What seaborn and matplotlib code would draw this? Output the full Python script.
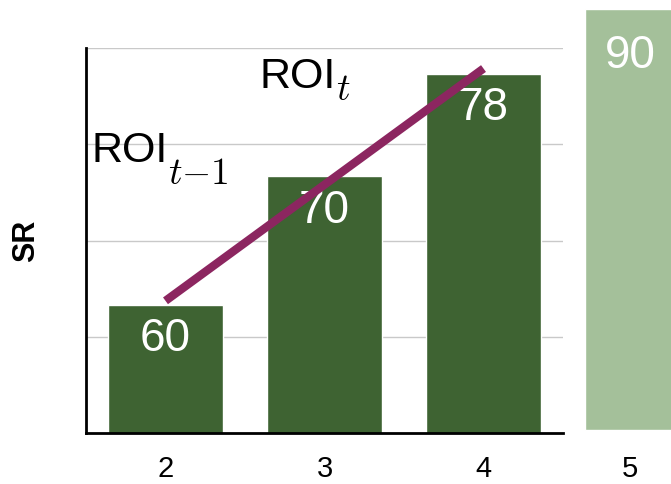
import matplotlib
matplotlib.use("Agg")
import matplotlib.pyplot as plt
import seaborn as sns
import pandas as pd

# Data
steps = [2, 3, 4]
sr_values = [60, 70, 78]
next_step = [5]
next_value = [90]
roi_x = [2, 4]
roi_y = [60.3, 78.4]
grid_levels = [57.5, 65, 72.5, 80]

sns.set_style("white")
plt.rcParams["font.family"] = ["Liberation Sans", "DejaVu Sans"]
plt.rcParams["mathtext.fontset"] = "cm"
plt.rcParams["text.color"] = "black"
plt.rcParams["axes.labelcolor"] = "black"
plt.rcParams["xtick.color"] = "black"

DARK = "#3E6332"
LIGHT = "#A4C09A"
ROI_COLOR = "#8C2660"
W, H = 671, 484

fig = plt.figure(figsize=(W / 100, H / 100), dpi=100)
ax = fig.add_axes([86 / W, (H - 433) / H, (563 - 86) / W, (433 - 48) / H])

df = pd.DataFrame({"step": steps, "sr": sr_values})
sns.barplot(data=df, x="step", y="sr", native_scale=True, width=0.72,
            color=DARK, saturation=1, ax=ax, zorder=2)

ax.set_xlim(1.5, 4.5)
ax.set_ylim(50, 80)
ax.set_yticks(grid_levels)
ax.set_yticklabels([])
ax.yaxis.grid(True, color="#C9C9C9", linewidth=1.0, zorder=0)
ax.set_axisbelow(True)
ax.set_xticks(steps)
ax.set_xticklabels([str(s) for s in steps], fontsize=21)
ax.tick_params(axis="both", length=0)
ax.tick_params(axis="x", pad=16)
ax.set_xlabel("")
ax.set_ylabel("SR", fontsize=22, fontweight="bold", labelpad=29)
for side in ("top", "right"):
    ax.spines[side].set_visible(False)
for side in ("left", "bottom"):
    ax.spines[side].set_color("black")
    ax.spines[side].set_linewidth(2)

for x, v in zip(steps, sr_values):
    ax.annotate(str(v), xy=(x, v), xytext=(0, -25), textcoords="offset points",
                ha="center", va="center", color="white", fontsize=33, zorder=4)

# ROI trend line across the bars
sns.lineplot(x=roi_x, y=roi_y, color=ROI_COLOR, linewidth=6, ax=ax,
             zorder=5, legend=False)
for ln in ax.get_lines():
    ln.set_solid_capstyle("butt")

# ROI labels: sans-serif name with a dropped math subscript
def roi_label(x, y, sub, drop_pt):
    base = ax.text(x, y, "ROI", fontsize=31, ha="left", va="baseline",
                   clip_on=False, zorder=6)
    ax.annotate(sub, xy=(1.0, y), xycoords=(base, "data"),
                xytext=(0, -drop_pt), textcoords="offset points",
                ha="left", va="baseline", fontsize=27, zorder=6,
                annotation_clip=False)

roi_label(2.590, 76.9, r"$t$", 9)
roi_label(1.535, 71.15, r"$t{-}1$", 16)

# Next step shown on its own scale
ax2 = fig.add_axes([563 / W, (H - 433) / H, 134 / W, (433 - 9) / H])
df2 = pd.DataFrame({"step": next_step, "sr": next_value})
sns.barplot(data=df2, x="step", y="sr", native_scale=True, width=0.67,
            color=LIGHT, saturation=1, ax=ax2)
ax2.set_xlim(4.5, 5.5)
ax2.set_ylim(-0.641, 90)
ax2.set_yticks([])
ax2.set_xticks(next_step)
ax2.set_xticklabels([str(s) for s in next_step], fontsize=21)
ax2.tick_params(axis="x", length=0, pad=16)
ax2.set_xlabel("")
ax2.set_ylabel("")
for side in ax2.spines.values():
    side.set_visible(False)
ax2.patch.set_alpha(0)
for x, v in zip(next_step, next_value):
    ax2.annotate(str(v), xy=(x, v), xytext=(0, -34), textcoords="offset points",
                 ha="center", va="center", color="white", fontsize=33)

fig.savefig("out.png", dpi=100)
